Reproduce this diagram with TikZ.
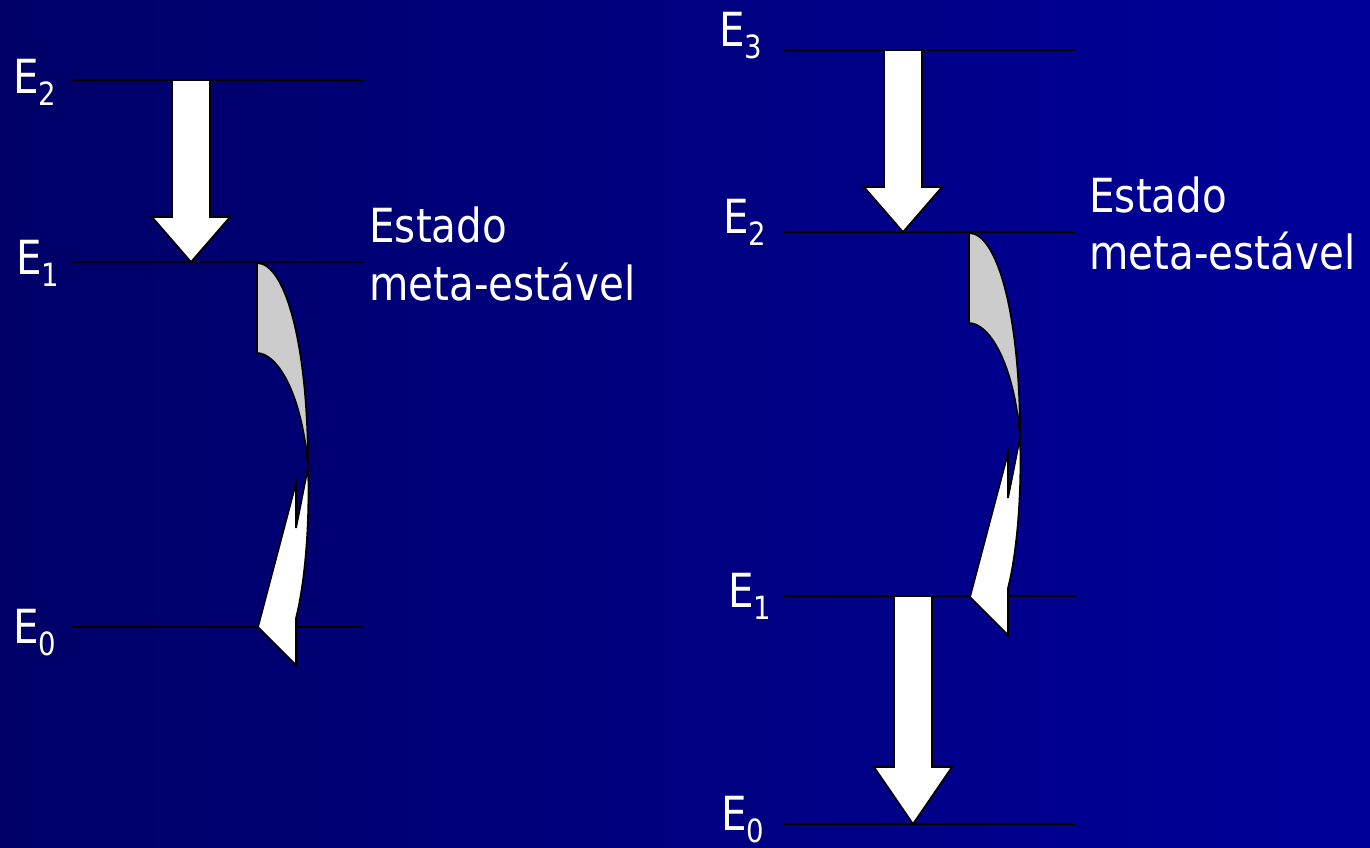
\documentclass[tikz,border=0pt]{standalone}
\usepackage{fontspec}
\setmainfont[FakeStretch=0.86]{DejaVu Sans}
\usetikzlibrary{calc,positioning}
\definecolor{bgleft}{RGB}{0,0,104}
\definecolor{bgright}{RGB}{0,0,153}
\definecolor{ribbongray}{RGB}{204,204,204}

% subscript of an energy level label
\newcommand{\lvlsub}[1]{\raisebox{-6pt}{\fontsize{16}{16}\selectfont #1}}
% block arrow from a level (#1) down to a tip (#2), head length #3
\newcommand{\blkarrow}[3]{%
  \draw[blockarr] ($(#1)+(-19,0)$) -- ($(#2)+(-19,-#3)$) -- ($(#2)+(-39,-#3)$) -- (#2)
    -- ($(#2)+(39,-#3)$) -- ($(#2)+(19,-#3)$) -- ($(#1)+(19,0)$) -- cycle;}

\begin{document}
\begin{tikzpicture}[x=0.5pt, y=-0.5pt]
  \tikzstyle{level} = [draw, black, line width=1pt]
  \tikzstyle{lvllabel} = [text=white, inner sep=0pt, anchor=base west, font={\fontsize{23.5}{28.5}\selectfont}]
  \tikzstyle{txt} = [text=white, inner sep=0pt, anchor=base west, font={\fontsize{23.5}{28.5}\selectfont}]
  \tikzstyle{blockarr} = [draw=black, fill=white, line width=0.85pt, line join=miter]
  \tikzstyle{ribbon} = [draw=black, line width=0.85pt, line join=miter]

  % background
  \shade[left color=bgleft, right color=bgright] (0,0) rectangle (1370,847);
  \useasboundingbox (0,0) rectangle (1370,847);

  % left diagram: levels
  \coordinate (L2w) at (72,80);   \coordinate (L2e) at (363,80);
  \coordinate (L1w) at (72,262);  \coordinate (L1e) at (363,262);
  \coordinate (L0w) at (72,627);  \coordinate (L0e) at (363,627);
  \path[level] (L2w) -- (L2e);
  \path[level] (L1w) -- (L1e);
  \path[level] (L0w) -- (L0e);
  \node[lvllabel] (lE2) at (13,93) {E\lvlsub{2}};
  \node[lvllabel] (lE1) at (16,274) {E\lvlsub{1}};
  \node[lvllabel] (lE0) at (13,643) {E\lvlsub{0}};

  % right diagram: levels
  \coordinate (R3w) at (784,50);  \coordinate (R3e) at (1075,50);
  \coordinate (R2w) at (784,232); \coordinate (R2e) at (1075,232);
  \coordinate (R1w) at (784,596); \coordinate (R1e) at (1075,596);
  \coordinate (R0w) at (784,824); \coordinate (R0e) at (1075,824);
  \path[level] (R3w) -- (R3e);
  \path[level] (R2w) -- (R2e);
  \path[level] (R1w) -- (R1e);
  \path[level] (R0w) -- (R0e);
  \node[lvllabel] (rE3) at (719,46) {E\lvlsub{3}};
  \node[lvllabel] (rE2) at (723,233) {E\lvlsub{2}};
  \node[lvllabel] (rE1) at (728,607) {E\lvlsub{1}};
  \node[lvllabel] (rE0) at (721,830) {E\lvlsub{0}};

  % pumping / emission arrows
  \coordinate (aTop) at (191,80);  \coordinate (aTip) at (191,262);
  \coordinate (bTop) at (903,50);  \coordinate (bTip) at (903,232);
  \coordinate (cTop) at (913,596); \coordinate (cTip) at (913,824);
  \blkarrow{aTop}{aTip}{45}
  \blkarrow{bTop}{bTip}{45}
  \blkarrow{cTop}{cTip}{57}

  % curved decay arrows from the meta-stable level
  \foreach \ox/\oy in {257/263, 969/233} {
    \begin{scope}[shift={(\ox,\oy)}]
      \path[ribbon, fill=ribbongray] (0,0) -- (0,90) .. controls (20,90) and (45,130) .. (51,204)
        .. controls (51,80) and (28,0) .. (0,0) -- cycle;
      \path[ribbon, fill=white] (51,204) .. controls (47,225) and (43,245) .. (39,265)
        -- (39,220) -- (1,364) -- (39,402) -- (39,355)
        .. controls (48,320) and (53,260) .. (51,204) -- cycle;
    \end{scope}
  }

  % text
  \node[txt] (estA) at (369,242) {Estado};
  \node[txt] (metaA) at ($(estA.base west)+(0,58)$) {meta-estável};
  \node[txt] (estB) at (1089,212) {Estado};
  \node[txt] (metaB) at ($(estB.base west)+(0,57)$) {meta-estável};
\end{tikzpicture}
\end{document}
